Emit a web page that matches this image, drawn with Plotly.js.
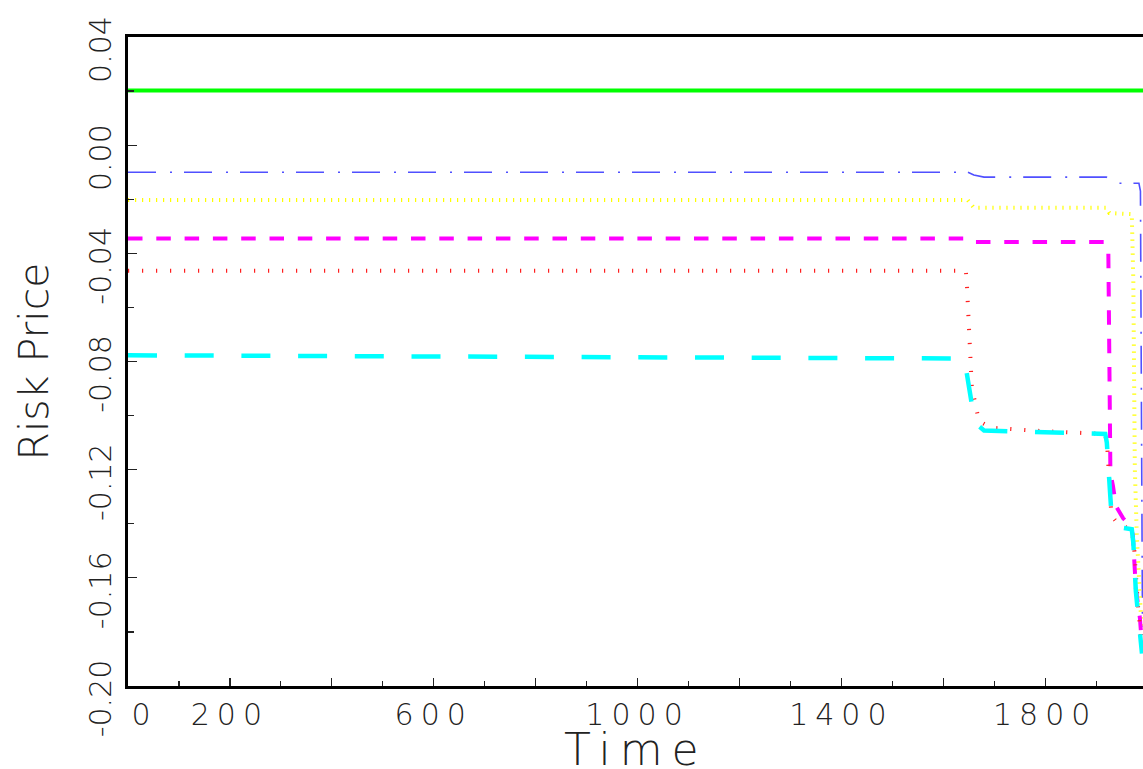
<!DOCTYPE html>
<html>
<head>
<meta charset="utf-8">
<script src="https://cdn.plot.ly/plotly-3.0.1.min.js"></script>
<style>
  html, body { margin: 0; padding: 0; background: #fff; }
  #chart { width: 1143px; height: 769px; }
  .xtick text { letter-spacing: 7px; }
  .annotation-text { letter-spacing: 9px; }
</style>
</head>
<body>
<div id="chart"></div>
<script>
// ---- data ----
var tGreen = [0, 1992];
var vGreen = [0.0202, 0.0202];

var tBlue = [0, 1648, 1660, 1680, 1920, 1928, 1940, 1984, 1987, 1989, 1991];
var vBlue = [-0.0100, -0.0100, -0.0110, -0.0118, -0.0118, -0.0128, -0.0141, -0.0141, -0.0170, -0.1000, -0.1780];

var tYellow = [0, 1648, 1660, 1920, 1926, 1970, 1973, 1976, 1980, 1984, 1989];
var vYellow = [-0.0203, -0.0203, -0.0231, -0.0231, -0.0251, -0.0255, -0.0500, -0.1200, -0.1450, -0.1600, -0.1780];

var tMagenta = [0, 1648, 1655, 1660, 1918, 1924, 1926, 1928, 1933, 1939, 1953, 1966, 1972, 1974, 1978, 1986, 1990];
var vMagenta = [-0.0345, -0.0345, -0.0355, -0.0358, -0.0358, -0.0400, -0.0800, -0.1210, -0.1260, -0.1335, -0.1380, -0.1404, -0.1440, -0.1520, -0.1640, -0.1750, -0.1850];

var tRed = [0, 1644, 1646, 1656, 1670, 1694, 1800, 1918, 1922, 1926, 1930, 1945, 1970, 1975, 1982, 1990];
var vRed = [-0.0464, -0.0464, -0.0500, -0.0894, -0.1020, -0.1045, -0.1058, -0.1068, -0.1120, -0.1280, -0.1370, -0.1405, -0.1420, -0.1500, -0.1700, -0.1860];

var tCyan = [0, 1640, 1645, 1650, 1656, 1662, 1680, 1800, 1918, 1921, 1924, 1927, 1930, 1940, 1953, 1970, 1973, 1978, 1986, 1990];
var vCyan = [-0.0777, -0.0789, -0.0830, -0.0890, -0.0970, -0.1027, -0.1055, -0.1062, -0.1068, -0.1100, -0.1200, -0.1300, -0.1360, -0.1400, -0.1415, -0.1420, -0.1470, -0.1650, -0.1780, -0.1880];

var xTickVals = [0, 200, 400, 600, 800, 1000, 1200, 1400, 1600, 1800];
var xTickText = ["\u00a0\u00a00", "200", "", "600", "", "1000", "", "1400", "", "1800"];
var yTickVals = [-0.20, -0.16, -0.12, -0.08, -0.04, 0.00, 0.04];
var yTickText = ["-0.20", "-0.16", "-0.12", "-0.08", "-0.04", "0.00", "0.04"];
var xTitle = "Time";
var yTitle = "Risk Price";

var FONT = "DejaVu Sans, Liberation Sans, sans-serif";

var traces = [
  { x: tGreen, y: vGreen, mode: "lines", line: { color: "#00ff00", width: 4 } },
  { x: tBlue, y: vBlue, mode: "lines", line: { color: "rgb(80,80,255)", width: 1.6, dash: "28px,14px,2px,12px" } },
  { x: tYellow, y: vYellow, mode: "lines", line: { color: "#ffff00", width: 4, dash: "1.2px,5.8px" } },
  { x: tMagenta, y: vMagenta, mode: "lines", line: { color: "#ff00ff", width: 4, dash: "14.5px,13.8px" } },
  { x: tRed, y: vRed, mode: "lines", line: { color: "#ff2020", width: 4, dash: "1.2px,12.8px" } },
  { x: tCyan, y: vCyan, mode: "lines", line: { color: "#00ffff", width: 4.5, dash: "29px,27.7px" } }
];

var layout = {
  width: 1143,
  height: 769,
  margin: { l: 128, r: 0, t: 37, b: 83 },
  paper_bgcolor: "#ffffff",
  plot_bgcolor: "#ffffff",
  showlegend: false,
  font: { family: FONT, color: "#222", weight: 200 },
  xaxis: {
    range: [0, 1992],
    showgrid: false,
    zeroline: false,
    showline: true,
    linecolor: "#000",
    linewidth: 3,
    mirror: true,
    ticks: "inside",
    ticklen: 8,
    tickwidth: 1.2,
    tickcolor: "#222",
    tickvals: xTickVals,
    ticktext: xTickText,
    tickfont: { family: FONT, size: 30, color: "#222", weight: 200 },
    ticklabelstandoff: 0,
    ticklabeloverflow: "allow",
    minor: { dtick: 100, tick0: 0, ticks: "inside", ticklen: 5, tickwidth: 1.2, tickcolor: "#222", showgrid: false }
  },
  yaxis: {
    range: [-0.20, 0.04],
    showgrid: false,
    zeroline: false,
    showline: true,
    linecolor: "#000",
    linewidth: 3,
    mirror: false,
    ticks: "inside",
    ticklen: 9,
    tickwidth: 1.2,
    tickcolor: "#222",
    tickvals: yTickVals,
    ticktext: yTickText,
    tickangle: -90,
    tickfont: { family: FONT, size: 30, color: "#222", weight: 200 },
    ticklabelstandoff: 2,
    ticklabelshift: 17,
    ticklabeloverflow: "allow",
    minor: { dtick: 0.02, tick0: 0, ticks: "inside", ticklen: 6, tickwidth: 1.2, tickcolor: "#222", showgrid: false },
    title: { text: yTitle, font: { family: FONT, size: 41, color: "#222", weight: 200 }, standoff: 22 }
  },
  annotations: [
    {
      text: xTitle,
      xref: "paper", yref: "paper",
      x: 0.5, y: -0.0986,
      xanchor: "center", yanchor: "middle",
      showarrow: false,
      font: { family: FONT, size: 44, color: "#222", weight: 200 }
    }
  ]
};

Plotly.newPlot("chart", traces, layout, { displayModeBar: false, staticPlot: true });
</script>
</body>
</html>
